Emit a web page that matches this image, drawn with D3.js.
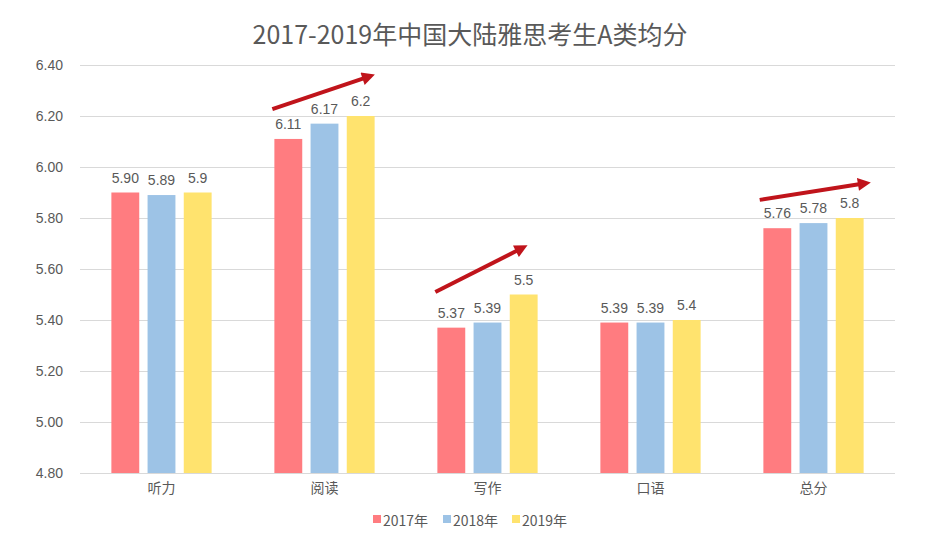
<!DOCTYPE html>
<html lang="zh">
<head>
    <meta charset="UTF-8">
    <title>2017-2019年中国大陆雅思考生A类均分</title>
    <script src="https://d3js.org/d3.v7.min.js"></script>
    <style>
        body {margin: 0; background: #fff}
        text {
            font-family: "Liberation Sans", "Noto Sans CJK SC", sans-serif;
            fill: #595959;
        }
        .grid line {stroke: #d9d9d9; stroke-width: 1}
        .title {font-family: "Noto Sans CJK SC", sans-serif; font-size: 25px}
        .cjk {font-family: "Noto Sans CJK SC", sans-serif}
    </style>
</head>
<body>
<script>
    const width  = 940;
    const height = 545;

    const categories = ["听力", "阅读", "写作", "口语", "总分"];
    const years      = ["2017年", "2018年", "2019年"];
    const colors     = ["#ff7c80", "#9dc3e6", "#ffe36e"];

    // values per year, in category order
    const v2017 = [5.90, 6.11, 5.37, 5.39, 5.76];
    const v2018 = [5.89, 6.17, 5.39, 5.39, 5.78];
    const v2019 = [5.9, 6.2, 5.5, 5.4, 5.8];
    // labels as printed on the chart
    const l2017 = ["5.90", "6.11", "5.37", "5.39", "5.76"];
    const l2018 = ["5.89", "6.17", "5.39", "5.39", "5.78"];
    const l2019 = ["5.9", "6.2", "5.5", "5.4", "5.8"];

    const yTicks = [4.80, 5.00, 5.20, 5.40, 5.60, 5.80, 6.00, 6.20, 6.40];

    // trend arrows: category, start/end as fraction of band, start/end value
    const arrows = [
        {cat: "阅读", x0: 0.18, x1: 0.81, y0: 6.227, y1: 6.365},
        {cat: "写作", x0: 0.18, x1: 0.75, y0: 5.51, y1: 5.69},
        {cat: "总分", x0: 0.17, x1: 0.85, y0: 5.871, y1: 5.949}
    ];

    const series = [v2017, v2018, v2019];
    const labels = [l2017, l2018, l2019];

    const svg = d3.select("body").append("svg")
        .attr("width", width).attr("height", height);

    const x = d3.scaleBand().domain(categories).range([80, 895])
        .paddingInner(0.385).paddingOuter(0.1925);
    const band = d3.scaleBand().domain(d3.range(3)).range([0, x.bandwidth()])
        .paddingInner(0.23).paddingOuter(0);
    const y = d3.scaleLinear().domain([4.8, 6.4]).range([473, 65]);

    // full band (no padding) for gridline extent and arrows
    const xFull = d3.scaleBand().domain(categories).range([80, 895]);

    svg.append("text").attr("class", "title")
        .attr("x", 470).attr("y", 44)
        .attr("text-anchor", "middle")
        .text("2017-2019年中国大陆雅思考生A类均分");

    // gridlines
    svg.append("g").attr("class", "grid")
        .selectAll("line").data(yTicks).join("line")
        .attr("x1", 80).attr("x2", 895)
        .attr("y1", d => Math.round(y(d)) + 0.5)
        .attr("y2", d => Math.round(y(d)) + 0.5);

    // y axis labels
    const yAxis = d3.axisLeft(y).tickValues(yTicks)
        .tickFormat(d3.format(".2f")).tickSize(0).tickPadding(0);
    svg.append("g")
        .attr("transform", "translate(63,0)")
        .call(yAxis)
        .call(g => g.select(".domain").remove())
        .call(g => g.selectAll("text")
            .attr("font-size", 14)
            .attr("font-family", "Liberation Sans")
            .attr("fill", "#595959"));

    // bars
    const groups = svg.append("g").selectAll("g")
        .data(categories).join("g")
        .attr("transform", d => `translate(${x(d)},0)`);

    groups.selectAll("rect")
        .data((c, ci) => series.map((s, si) => ({si, v: s[ci]})))
        .join("rect")
        .attr("x", d => band(d.si))
        .attr("width", band.bandwidth())
        .attr("y", d => y(d.v))
        .attr("height", d => y(4.8) - y(d.v))
        .attr("fill", d => colors[d.si]);

    groups.selectAll("text")
        .data((c, ci) => labels.map((s, si) => ({si, t: s[ci], v: series[si][ci]})))
        .join("text")
        .attr("x", d => band(d.si) + band.bandwidth() / 2)
        .attr("y", d => y(d.v) - 10)
        .attr("text-anchor", "middle")
        .attr("font-size", 14)
        .text(d => d.t);

    // x axis
    const xAxis = d3.axisBottom(x).tickSize(0).tickPadding(0);
    svg.append("g")
        .attr("transform", "translate(0,473)")
        .call(xAxis)
        .call(g => g.select(".domain").remove())
        .call(g => g.selectAll("text")
            .attr("class", "cjk")
            .attr("font-size", 14)
            .attr("fill", "#595959")
            .attr("dy", "1.45em"));

    // arrows
    svg.append("defs").append("marker")
        .attr("id", "head")
        .attr("markerUnits", "userSpaceOnUse")
        .attr("viewBox", "0 0 10 10")
        .attr("refX", 2).attr("refY", 5)
        .attr("markerWidth", 14).attr("markerHeight", 13)
        .attr("orient", "auto")
        .append("path").attr("d", "M0,0L10,5L0,10z")
        .attr("fill", "#c0141b");

    svg.append("g").selectAll("line")
        .data(arrows).join("line")
        .attr("x1", d => xFull(d.cat) + d.x0 * xFull.bandwidth())
        .attr("y1", d => y(d.y0))
        .attr("x2", d => xFull(d.cat) + d.x1 * xFull.bandwidth() - 10)
        .attr("y2", d => y(d.y1) + 4)
        .attr("stroke", "#c0141b")
        .attr("stroke-width", 4)
        .attr("marker-end", "url(#head)");

    // legend
    const legend = svg.append("g").attr("transform", "translate(373,521)");
    const offs = [0, 70, 139];
    const item = legend.selectAll("g").data(years).join("g")
        .attr("transform", (d, i) => `translate(${offs[i]},0)`);
    item.append("rect").attr("x", 0).attr("y", -6)
        .attr("width", 8).attr("height", 8)
        .attr("fill", (d, i) => colors[i]);
    item.append("text").attr("x", 10).attr("y", 0)
        .attr("dy", "0.35em")
        .attr("class", "cjk")
        .attr("font-size", 14)
        .text(d => d);
</script>
</body>
</html>
